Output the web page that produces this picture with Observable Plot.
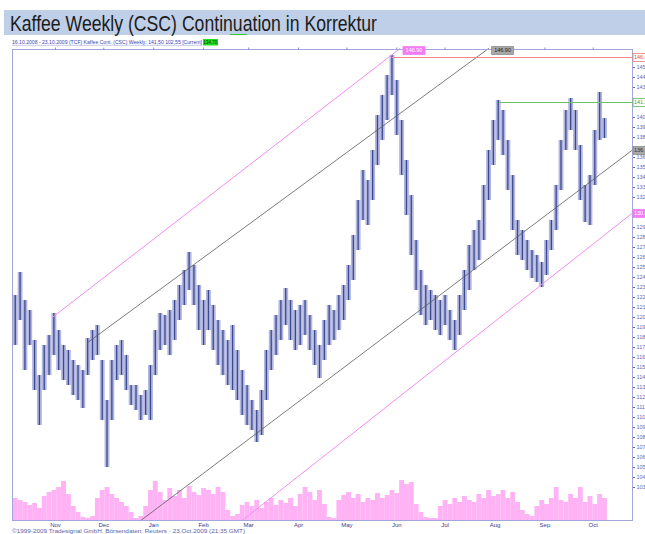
<!DOCTYPE html>
<html><head><meta charset="utf-8">
<script src="https://cdn.jsdelivr.net/npm/d3@7"></script>
<script src="https://cdn.jsdelivr.net/npm/@observablehq/plot@0.6"></script>
<style>
html,body{margin:0;padding:0;background:#fff;overflow:hidden}
#wrap{position:relative;width:645px;height:534px;font-family:"Liberation Sans",Arial,sans-serif}
#wrap > svg{position:absolute;left:0}
</style></head><body><div id="wrap"></div>
<script>
const titleText = "Kaffee Weekly (CSC) Continuation in Korrektur";
const subtitleText = "16.10.2008 - 23.10.2009 (TCF) Kaffee Cont. (CSC) Weekly: 141,50 102,55 [Current]";
const subtitleBox = "134,70";
const copyrightText = "©1999-2009 Tradesignal GmbH, Börsendaten: Reuters · 23.Oct.2009 (21:35 GMT)";

const dates = [
"2008-10-07","2008-10-10","2008-10-13","2008-10-16","2008-10-19","2008-10-22","2008-10-25","2008-10-28","2008-10-31","2008-11-03",
"2008-11-06","2008-11-09","2008-11-12","2008-11-15","2008-11-18","2008-11-21","2008-11-24","2008-11-27","2008-11-30","2008-12-03",
"2008-12-06","2008-12-09","2008-12-12","2008-12-15","2008-12-18","2008-12-21","2008-12-24","2008-12-27","2008-12-30","2009-01-02",
"2009-01-05","2009-01-08","2009-01-11","2009-01-14","2009-01-17","2009-01-20","2009-01-23","2009-01-26","2009-01-29","2009-02-01",
"2009-02-04","2009-02-07","2009-02-10","2009-02-13","2009-02-16","2009-02-19","2009-02-22","2009-02-25","2009-02-28","2009-03-03",
"2009-03-06","2009-03-09","2009-03-12","2009-03-15","2009-03-18","2009-03-21","2009-03-24","2009-03-27","2009-03-30","2009-04-02",
"2009-04-05","2009-04-08","2009-04-11","2009-04-14","2009-04-17","2009-04-20","2009-04-23","2009-04-26","2009-04-29","2009-05-02",
"2009-05-05","2009-05-08","2009-05-11","2009-05-14","2009-05-17","2009-05-20","2009-05-23","2009-05-26","2009-05-29","2009-06-01",
"2009-06-04","2009-06-07","2009-06-10","2009-06-13","2009-06-16","2009-06-19","2009-06-22","2009-06-25","2009-06-28","2009-07-01",
"2009-07-04","2009-07-07","2009-07-10","2009-07-13","2009-07-16","2009-07-19","2009-07-22","2009-07-25","2009-07-28","2009-07-31",
"2009-08-03","2009-08-06","2009-08-09","2009-08-12","2009-08-15","2009-08-18","2009-08-21","2009-08-24","2009-08-27","2009-08-30",
"2009-09-02","2009-09-05","2009-09-08","2009-09-11","2009-09-14","2009-09-17","2009-09-20","2009-09-23","2009-09-26","2009-09-29",
"2009-10-02","2009-10-05","2009-10-08"];

const highs = [
122.2,124.5,121.7,120.7,117.7,114.2,117.2,118.2,120.4,118.7,
117.2,116.7,115.7,115.2,114.7,117.9,118.7,119.2,115.7,111.7,
115.7,117.2,117.7,116.2,113.2,113.2,112.2,112.7,115.2,118.7,
120.4,120.2,120.7,121.7,123.2,124.7,126.5,125.2,123.2,121.7,
122.7,121.2,119.7,118.7,117.7,119.2,116.7,114.7,113.2,111.7,
110.7,112.7,116.7,118.7,120.2,121.7,122.9,121.7,120.7,121.2,
121.7,120.2,118.7,117.2,119.7,121.2,120.7,122.2,123.2,125.2,
128.2,131.7,134.7,133.7,136.7,140.2,142.2,144.2,146.2,143.7,
139.7,135.7,132.2,127.7,124.7,123.2,122.7,122.2,121.7,122.2,
120.7,119.7,122.2,124.7,127.2,128.7,129.7,133.2,136.7,139.7,
141.7,140.7,137.7,134.2,129.7,128.7,127.7,126.7,126.2,125.5,
127.7,129.7,133.2,137.7,140.7,141.9,140.7,137.2,133.2,134.2,
138.7,142.5,139.9];

const lows = [
117.2,119.7,114.7,117.2,112.7,109.2,112.7,114.2,116.2,114.7,
113.7,113.2,112.2,111.7,110.9,114.2,115.7,116.2,109.7,105.0,
109.7,113.7,114.2,112.7,111.2,110.7,109.7,110.2,109.7,114.2,
116.7,117.2,116.2,117.7,119.7,121.2,122.7,121.2,118.7,117.2,
118.7,116.7,115.2,114.2,113.2,112.7,111.7,110.2,109.2,108.7,
107.5,108.2,111.7,114.7,116.2,117.7,119.2,117.7,116.7,117.2,
118.2,116.7,115.2,113.9,115.7,117.2,117.7,118.7,119.7,121.7,
123.7,126.7,129.7,129.2,131.7,135.2,137.7,139.7,142.2,138.2,
134.2,130.2,126.2,122.7,120.2,119.2,119.7,118.7,118.2,119.2,
117.7,116.7,118.2,120.7,122.7,124.7,125.7,127.7,131.7,135.2,
137.7,136.2,132.7,128.7,126.2,125.7,124.7,123.9,123.5,123.0,
124.2,126.7,128.7,132.7,136.7,138.7,136.7,131.7,129.5,129.2,
133.2,137.7,137.9];

const volumes = [
22,20,18,15,17,12,24,28,30,33,
39,26,14,8,3,2,4,22,30,33,
26,22,18,14,8,2,4,14,30,39,
28,20,32,24,30,22,34,28,25,32,
30,26,33,28,10,4,6,15,18,14,
20,12,18,22,15,20,17,22,14,26,
33,28,20,30,16,3,2,20,25,28,
22,26,18,22,20,27,22,25,30,27,
40,36,38,16,8,3,2,2,14,20,
16,22,18,24,20,18,26,22,30,24,
26,30,22,28,18,10,6,4,14,20,
16,22,33,20,18,26,22,33,18,24,
16,26,22];

const monthTicks = ["2008-11-01","2008-12-01","2009-01-01","2009-02-01","2009-03-01","2009-04-01","2009-05-01","2009-06-01","2009-07-01","2009-08-01","2009-09-01","2009-10-01"];
const monthLabels = ["Nov","Dec","Jan","Feb","Mar","Apr","May","Jun","Jul","Aug","Sep","Oct"];
const priceTicks = [103,104,105,106,107,108,109,110,111,112,113,114,115,116,117,118,119,120,121,122,123,124,125,126,127,128,129,130,131,132,133,134,135,136,137,138,139,140,141,142,143,144,145,146];

const xDomain = ["2008-10-05T07:00:00Z","2009-10-25T10:00:00Z"];
const yDomain = [99.7, 146.8];
const volDomain = [0, 42];

// trend channel lines [date, price]
const upperPink  = [["2008-10-30",120.0],["2009-06-03",146.9]];
const upperBlack = [["2008-11-21",117.5],["2009-07-28",146.9]];
const midBlack   = [["2008-12-24",99.7],["2009-10-25",136.7]];
const lowerPink  = [["2009-02-25",99.7],["2009-10-25",130.4]];
// horizontal levels
const redLevel   = [["2009-05-29",146.0],["2009-10-25",146.0]];
const greenLevel = [["2009-08-04",141.5],["2009-10-25",141.5]];
// right-side value tags
const rightTags = [
  {price:146.0, label:"146.00", fill:"#ffffff", stroke:"#f07a7a", text:"#e05050"},
  {price:141.5, label:"141.50", fill:"#ffffff", stroke:"#5cb85c", text:"#3c983c"},
  {price:136.7, label:"136.70", fill:"#a8a8a8", stroke:"#8c8c8c", text:"#333333"},
  {price:130.4, label:"130.40", fill:"#f27cf2", stroke:"#f27cf2", text:"#ffffff"}
];
const topTags = [
  {date:"2009-06-03", price:146.9, label:"146.90", fill:"#f27cf2", stroke:"#f27cf2", text:"#ffffff"},
  {date:"2009-07-28", price:146.9, label:"146.90", fill:"#a8a8a8", stroke:"#8c8c8c", text:"#222222"}
];

const parse = d3.utcParse("%Y-%m-%d");
const bars = dates.map((d,i)=>({date: parse(d), high: highs[i], low: lows[i], volume: volumes[i]}));
const xDom = xDomain.map(s=>new Date(s));
const monthDates = monthTicks.map(parse);
const labelByTime = new Map(monthDates.map((d,i)=>[+d, monthLabels[i]]));
const toPts = arr => arr.map(([d,p])=>({date: parse(d), price: p}));
// axis ticks hidden where a value tag sits (as in the reference)
const shownTicks = priceTicks.filter(v => rightTags.every(t => Math.abs(t.price - v) > 0.6));

const box = (w,h) => ({draw(ctx){ctx.moveTo(-w/2,-h/2);ctx.lineTo(w/2,-h/2);ctx.lineTo(w/2,h/2);ctx.lineTo(-w/2,h/2);ctx.closePath();}});

const wrap = document.getElementById("wrap");

// decorations: title banner, subtitle, copyright
const NS = "http://www.w3.org/2000/svg";
const deco = document.createElementNS(NS,"svg");
deco.setAttribute("width",645); deco.setAttribute("height",534);
deco.style.top = "0px";
deco.innerHTML = `
<rect x="4" y="10" width="641" height="25" fill="#bfcfe7"/>
<text x="10" y="30.5" font-family="Liberation Sans, Arial, sans-serif" font-size="21.5" fill="#1c1c1c" textLength="367" lengthAdjust="spacingAndGlyphs"></text>
<line x1="230" x2="247" y1="34.5" y2="34.5" stroke="#3cc83c" stroke-width="1"/>
<text x="12" y="44.3" font-family="Liberation Sans, Arial, sans-serif" font-size="5" fill="#3a46b0" textLength="190" lengthAdjust="spacingAndGlyphs"></text>
<line x1="12" x2="202" y1="45.3" y2="45.3" stroke="#8a90d0" stroke-width="0.5"/>
<rect x="203" y="39" width="15" height="6.5" fill="#1ee01e"/>
<text x="210.5" y="44.2" text-anchor="middle" font-family="Liberation Sans, Arial, sans-serif" font-size="4.5" fill="#103010"></text>
<text x="12" y="533" font-family="Liberation Sans, Arial, sans-serif" font-size="4.6" fill="#5a66a8" textLength="233" lengthAdjust="spacingAndGlyphs"></text>`;
const tx = deco.querySelectorAll("text");
tx[0].textContent = titleText; tx[1].textContent = subtitleText; tx[2].textContent = subtitleBox; tx[3].textContent = copyrightText;
wrap.appendChild(deco);

// volume panel
const vol = Plot.plot({
  width: 645, height: 42,
  marginTop: 0, marginBottom: 0, marginLeft: 12, marginRight: 13,
  style: {background: "transparent"},
  x: {type: "utc", domain: xDom, axis: null},
  y: {domain: volDomain, axis: null},
  marks: [
    Plot.ruleX(bars, {x: "date", y1: 0, y2: "volume", stroke: "#ffb2f4", strokeWidth: 4.9})
  ]
});
vol.style.top = "478px";
wrap.appendChild(vol);

// price panel
const lineOpts = (stroke, w=1) => ({x: "date", y: "price", stroke, strokeWidth: w});
const marks = [
  Plot.ruleX(bars, {x: "date", y1: "low", y2: "high", stroke: "#b3b7df", strokeWidth: 4.9}),
  Plot.ruleX(bars, {x: "date", y1: "low", y2: "high", stroke: "#3a4a90", strokeWidth: 1.3}),
  Plot.line(toPts(upperPink), lineOpts("#f28cf2")),
  Plot.line(toPts(upperBlack), lineOpts("#5a5a5a", 0.8)),
  Plot.line(toPts(midBlack), lineOpts("#5a5a5a", 0.8)),
  Plot.line(toPts(lowerPink), lineOpts("#f28cf2")),
  Plot.line(toPts(redLevel), lineOpts("#f08a8a")),
  Plot.line(toPts(greenLevel), lineOpts("#6cc06c")),
  Plot.frame({stroke: "#a2a6d8"}),
  Plot.axisX({anchor: "bottom", ticks: monthDates, tickFormat: d => labelByTime.get(+d), tickSize: 0, tickPadding: 2.5, fontSize: 6, color: "#3a3c8c", label: null}),
  Plot.axisX({anchor: "top", ticks: monthDates, tickFormat: () => "", tickSize: 2.5, color: "#8c90cc", label: null}),
  Plot.axisY({anchor: "right", ticks: shownTicks, tickSize: 2, tickPadding: 2, fontSize: 5.5, tickFormat: d => d.toFixed(2), color: "#6468b2", label: null})
];
for (const t of rightTags) {
  marks.push(Plot.dot([t], {y: "price", frameAnchor: "right", dx: 7.5, symbol: box(14, 8), r: 4, fill: t.fill, stroke: t.stroke, strokeWidth: 0.8}));
  marks.push(Plot.text([t], {y: "price", text: "label", frameAnchor: "right", textAnchor: "start", dx: 1.5, fontSize: 5.5, fill: t.text}));
}
for (const t of topTags) {
  const pt = [{date: parse(t.date), price: t.price, label: t.label}];
  marks.push(Plot.dot(pt, {x: "date", y: "price", dx: 14, dy: 2, symbol: box(22, 8), r: 4, fill: t.fill, stroke: t.stroke, strokeWidth: 0.8}));
  marks.push(Plot.text(pt, {x: "date", y: "price", text: "label", dx: 14, dy: 2, fontSize: 5.5, fill: t.text}));
}
const price = Plot.plot({
  width: 645, height: 534,
  marginTop: 49, marginBottom: 14, marginLeft: 12, marginRight: 13,
  style: {background: "transparent", fontFamily: "Liberation Sans, Arial, sans-serif"},
  x: {type: "utc", domain: xDom},
  y: {domain: yDomain},
  marks
});
price.style.top = "0px";
wrap.appendChild(price);
</script></body></html>
